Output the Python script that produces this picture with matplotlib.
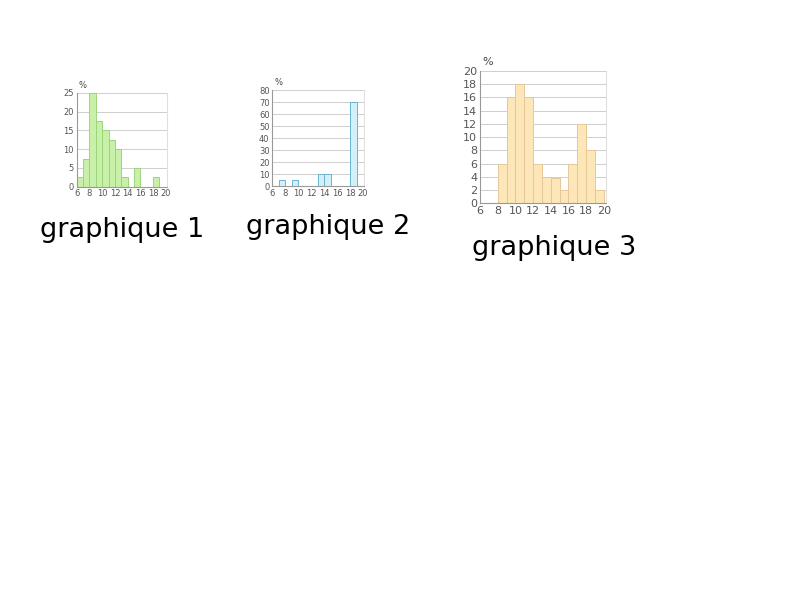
import matplotlib
matplotlib.use("Agg")
import matplotlib.pyplot as plt
import numpy as np

# bins of width 1, from 6 to 20
bin_left = np.arange(6, 20)

# percentages per bin
g1_values = [2.5, 7.5, 25, 17.5, 15, 12.5, 10, 2.5, 0, 5, 0, 0, 2.5, 0]
g2_values = [0, 5, 0, 5, 0, 0, 0, 10, 10, 0, 0, 0, 70, 0]
g3_values = [0, 0, 6, 16, 18, 16, 6, 4, 3.8, 2, 6, 12, 8, 2]

x_ticks = [6, 8, 10, 12, 14, 16, 18, 20]
g1_yticks = [0, 5, 10, 15, 20, 25]
g2_yticks = [0, 10, 20, 30, 40, 50, 60, 70, 80]
g3_yticks = [0, 2, 4, 6, 8, 10, 12, 14, 16, 18, 20]

titles = ["graphique 1", "graphique 2", "graphique 3"]

fig = plt.figure(figsize=(8, 6), dpi=100)
fig.patch.set_facecolor("white")


def histo(rect, values, yticks, fill, edge, fsize):
    ax = fig.add_axes(rect)
    ax.bar(bin_left, values, width=1, align="edge", color=fill,
           edgecolor=edge, linewidth=0.7, zorder=2)
    ax.set_xlim(6, 20.2)
    ax.set_ylim(0, yticks[-1])
    ax.set_xticks(x_ticks)
    ax.set_yticks(yticks)
    ax.tick_params(length=0, labelsize=fsize, colors="#555555", pad=2)
    ax.grid(axis="y", color="#c8c8c8", linewidth=0.6, zorder=0)
    ax.spines["top"].set_visible(False)
    ax.spines["right"].set_color("#e0e0e0")
    ax.spines["left"].set_color("#999999")
    ax.spines["bottom"].set_color("#999999")
    ax.text(6.3, yticks[-1] * 1.03, "%", fontsize=fsize, color="#444444",
            ha="left", va="bottom")
    return ax


histo([0.0959, 0.6888, 0.1130, 0.1567], g1_values, g1_yticks,
      "#c8f0a8", "#9cd47c", 6)
histo([0.3404, 0.6900, 0.1150, 0.1600], g2_values, g2_yticks,
      "#d2f0fa", "#6ab4d4", 6)
histo([0.6000, 0.6612, 0.1570, 0.2205], g3_values, g3_yticks,
      "#fde6b8", "#e6c898", 8)

fig.text(40 / 800, 1 - 230 / 600, titles[0], fontsize=19.5, ha="left", va="center")
fig.text(246 / 800, 1 - 227 / 600, titles[1], fontsize=19.5, ha="left", va="center")
fig.text(472 / 800, 1 - 248 / 600, titles[2], fontsize=19.5, ha="left", va="center")

fig.savefig("out.png", dpi=100, facecolor="white")
